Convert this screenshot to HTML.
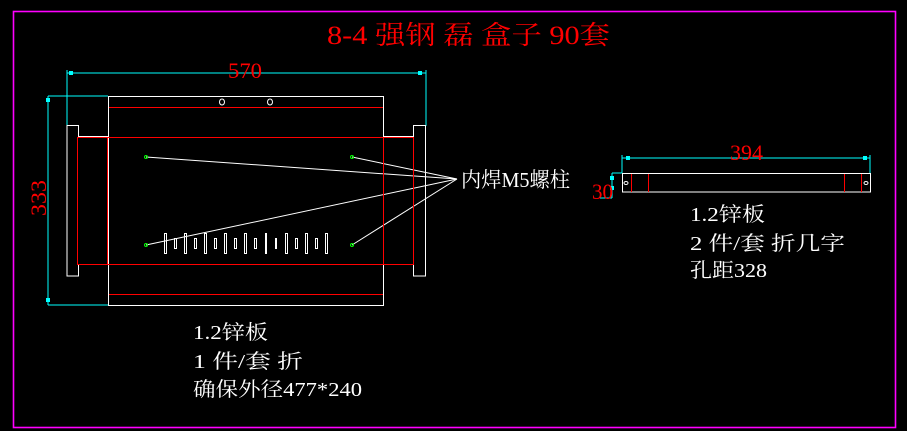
<!DOCTYPE html>
<html><head><meta charset="utf-8"><style>
html,body{margin:0;padding:0;background:#000;width:907px;height:431px;overflow:hidden}
svg{display:block}
text{font-family:"Liberation Serif","Noto Serif CJK SC","Noto Sans CJK SC",serif}
</style></head><body>
<svg width="907" height="431" viewBox="0 0 907 431" xmlns="http://www.w3.org/2000/svg">
<rect x="13.5" y="11.5" width="882" height="416" fill="none" stroke="#ff00ff" stroke-width="1.6"/>
<text x="327" y="44" fill="#ff0000" font-size="26" textLength="283" lengthAdjust="spacingAndGlyphs">8-4 强钢 磊 盒子 90套</text>

<g fill="none" stroke-width="1">
<g stroke="#00ffff">
<line x1="67" y1="73" x2="426" y2="73"/>
<line x1="67" y1="70" x2="67" y2="126"/>
<line x1="426" y1="70" x2="426" y2="126"/>
<line x1="48" y1="96" x2="108" y2="96"/>
<line x1="48" y1="96" x2="48" y2="305"/>
<line x1="48" y1="305" x2="108" y2="305"/>
</g>
<g fill="#00ffff"><rect x="69" y="71" width="4" height="4"/><rect x="418" y="71" width="4" height="4"/><rect x="46" y="98" width="4" height="4"/><rect x="46" y="298" width="4" height="4"/></g>
<g stroke="#ffffff">
<rect x="108.5" y="96.5" width="275" height="209"/>
<path d="M108.5 136.5 H78.5 V125.5 H67 V276 H78.5 V264.5 H108.5"/>
<path d="M383.5 136.5 H413.5 V125.5 H425.5 V276 H413.5 V264.5 H383.5"/>
<ellipse cx="222" cy="102" rx="2.5" ry="3"/><line x1="219" y1="107.5" x2="226" y2="107.5"/>
<ellipse cx="270" cy="102" rx="2.5" ry="3"/><line x1="266" y1="107.5" x2="273" y2="107.5"/>
<line x1="146" y1="157" x2="457" y2="179"/>
<line x1="352" y1="157" x2="457" y2="179"/>
<line x1="146" y1="245" x2="457" y2="179"/>
<line x1="352" y1="245" x2="457" y2="179"/>
</g>
</g>
<g fill="#ff0000">
<rect x="109" y="107" width="274" height="1"/>
<rect x="109" y="294" width="274" height="1"/>
<rect x="77" y="137" width="337" height="1"/>
<rect x="77" y="264" width="337" height="1"/>
<rect x="77" y="137" width="1" height="128"/>
<rect x="107" y="137" width="1" height="128"/>
<rect x="383" y="137" width="1" height="128"/>
<rect x="413" y="137" width="1" height="128"/>
</g>
<g fill="none" stroke="#00ff00"><circle cx="146" cy="157" r="1.5"/><circle cx="352" cy="157" r="1.5"/><circle cx="146" cy="245" r="1.5"/><circle cx="352" cy="245" r="1.5"/></g>
<g fill="none" stroke="#ffffff">
<rect x="164.5" y="233.5" width="2" height="20"/><rect x="174.5" y="238.5" width="2" height="10"/>
<rect x="184.5" y="233.5" width="2" height="20"/><rect x="194.5" y="238.5" width="2" height="10"/>
<rect x="204.5" y="233.5" width="2" height="20"/><rect x="214.5" y="238.5" width="2" height="10"/>
<rect x="224.5" y="233.5" width="2" height="20"/><rect x="234.5" y="238.5" width="2" height="10"/>
<rect x="244.5" y="233.5" width="2" height="20"/><rect x="254.5" y="238.5" width="2" height="10"/>
<rect x="265.5" y="233.5" width="1" height="20"/><rect x="275.5" y="238.5" width="1" height="10"/>
<rect x="285.5" y="233.5" width="2" height="20"/><rect x="295.5" y="238.5" width="2" height="10"/>
<rect x="305.5" y="233.5" width="2" height="20"/><rect x="315.5" y="238.5" width="2" height="10"/>
<rect x="325.5" y="233.5" width="2" height="20"/>
</g>
<text x="228" y="78" fill="#ff0000" font-size="22" textLength="34" lengthAdjust="spacingAndGlyphs">570</text>
<text transform="translate(46,216) rotate(-90)" fill="#ff0000" font-size="22" textLength="36" lengthAdjust="spacingAndGlyphs">333</text>
<text x="461" y="187" fill="#ffffff" font-size="21" textLength="109" lengthAdjust="spacingAndGlyphs">内焊M5螺柱</text>
<text x="193" y="339" fill="#ffffff" font-size="20" textLength="75" lengthAdjust="spacingAndGlyphs">1.2锌板</text>
<text x="193" y="368" fill="#ffffff" font-size="20" textLength="110" lengthAdjust="spacingAndGlyphs">1 件/套 折</text>
<text x="193" y="396" fill="#ffffff" font-size="20" textLength="169" lengthAdjust="spacingAndGlyphs">确保外径477*240</text>

<g fill="none" stroke-width="1">
<g stroke="#00ffff">
<line x1="622" y1="158" x2="870" y2="158"/>
<line x1="622" y1="155" x2="622" y2="173"/>
<line x1="870" y1="155" x2="870" y2="173"/>
<line x1="612" y1="173" x2="622" y2="173"/>
<line x1="612" y1="173" x2="612" y2="198"/>
<line x1="600" y1="198" x2="612" y2="198"/>
</g>
<g fill="#00ffff"><rect x="626" y="156" width="4" height="4"/><rect x="863" y="156" width="4" height="4"/><rect x="610" y="176" width="4" height="4"/><rect x="610" y="186" width="4" height="4"/></g>
<rect x="622.5" y="173.5" width="248" height="18.5" stroke="#ffffff"/>
<g stroke="#ffffff"><ellipse cx="626" cy="183" rx="2" ry="1.5"/><ellipse cx="866" cy="183" rx="2" ry="1.5"/></g>
</g>
<g fill="#ff0000">
<rect x="631" y="174" width="1" height="18"/><rect x="648" y="174" width="1" height="18"/>
<rect x="844" y="174" width="1" height="18"/><rect x="861" y="174" width="1" height="18"/>
</g>
<text x="730" y="160" fill="#ff0000" font-size="22" textLength="33" lengthAdjust="spacingAndGlyphs">394</text>
<text x="592" y="199" fill="#ff0000" font-size="22" textLength="21" lengthAdjust="spacingAndGlyphs">30</text>
<text x="690" y="221" fill="#ffffff" font-size="20" textLength="75" lengthAdjust="spacingAndGlyphs">1.2锌板</text>
<text x="690" y="250" fill="#ffffff" font-size="20" textLength="155" lengthAdjust="spacingAndGlyphs">2 件/套 折几字</text>
<text x="690" y="277" fill="#ffffff" font-size="20" textLength="77" lengthAdjust="spacingAndGlyphs">孔距328</text>
</svg>
</body></html>
